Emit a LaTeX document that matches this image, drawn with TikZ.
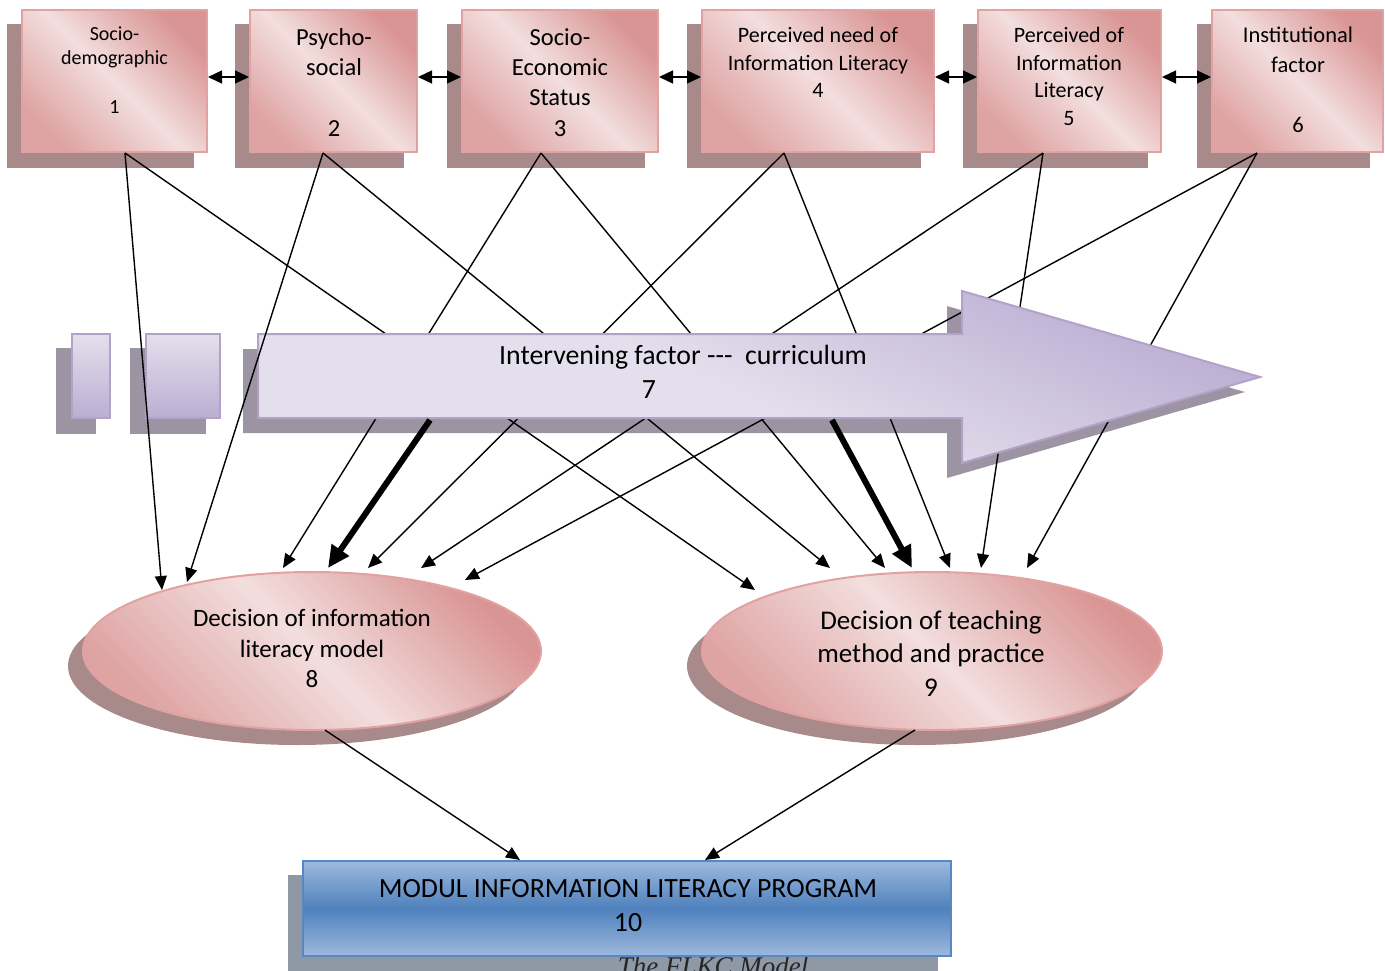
\documentclass[tikz,border=0pt]{standalone}
\usepackage{fontspec}
\setmainfont{Carlito}
\newfontfamily\capfont{Liberation Serif}
\usetikzlibrary{arrows.meta,calc,shapes.geometric}
\pgfdeclarelayer{shadowlayer}
\pgfsetlayers{shadowlayer,main}
\definecolor{pdark}{HTML}{D99594}
\definecolor{plight}{HTML}{F3DEDE}
\definecolor{pborder}{HTML}{E2A2A2}
\definecolor{pshadow}{HTML}{A88A8B}
\definecolor{vdark}{HTML}{BBAED3}
\definecolor{vmid}{HTML}{DCD5E8}
\definecolor{vlight}{HTML}{E4DFEC}
\definecolor{vborder}{HTML}{B3A2C7}
\definecolor{vshadow}{HTML}{9D94A3}
\definecolor{bmid}{HTML}{4F81BD}
\definecolor{blight}{HTML}{9DB9DE}
\definecolor{bborder}{HTML}{5787C4}
\definecolor{bshadow}{HTML}{8F99A6}
\pgfdeclareverticalshading{arrowshade}{100bp}{color(0bp)=(vlight); color(25bp)=(vlight); color(47bp)=(vlight); color(75bp)=(vdark); color(100bp)=(vdark)}
\tikzset{
  pinkbox/.style={draw=pborder, line width=2pt, top color=pdark, bottom color=pdark!80!plight, middle color=plight, shading angle=-45, minimum height=142pt, inner sep=0pt},
  pinkell/.style={ellipse, draw=pborder, line width=2pt, top color=pdark, bottom color=pdark!80!plight, middle color=plight, shading angle=-45, inner sep=0pt},
  vbox/.style={draw=vborder, line width=2pt, top color=vlight, bottom color=vdark, inner sep=0pt},
  bluebox/.style={draw=bborder, line width=2pt, top color=blight, bottom color=blight, middle color=bmid, inner sep=0pt},
  txt/.style={align=center, inner sep=0pt, text=black},
  conn/.style={line width=1.4pt, -{Triangle[length=14pt,width=12pt]}},
  heavy/.style={line width=6pt, -{Triangle[length=22pt,width=20pt]}},
  dbl/.style={line width=1.4pt, {Triangle[length=14pt,width=13pt]}-{Triangle[length=14pt,width=13pt]}},
}
\begin{document}
\begin{tikzpicture}[x=1pt,y=-1pt]
\useasboundingbox (0,0) rectangle (1385,970);

% ---- top boxes
\node[pinkbox, minimum width=185pt] (b1) at (114.5,81) {};
\node[pinkbox, minimum width=167pt] (b2) at (333.5,81) {};
\node[pinkbox, minimum width=196pt] (b3) at (560,81) {};
\node[pinkbox, minimum width=232pt] (b4) at (818,81) {};
\node[pinkbox, minimum width=183pt] (b5) at (1069.5,81) {};
\node[pinkbox, minimum width=171pt] (b6) at (1297.5,81) {};

\node[txt, font=\fontsize{20}{24.5}\selectfont] (t1) at (114.5,70) {Socio-\\demographic\\[24.5pt]1};
\node[txt, font=\fontsize{24.5}{30.3}\selectfont] (t2) at (334,82.5) {Psycho-\\social\\[30.3pt]2};
\node[txt, font=\fontsize{24.5}{30.3}\selectfont] (t3) at (560,82.5) {Socio-\\Economic\\Status\\3};
\node[txt, font=\fontsize{22}{27.5}\selectfont] (t4) at (818,62.5) {Perceived need of\\Information Literacy\\4};
\node[txt, font=\fontsize{22}{27.7}\selectfont] (t5) at (1069,76.5) {Perceived of\\Information\\Literacy\\5};
\node[txt, font=\fontsize{22.5}{30}\selectfont] (t6) at (1298,80) {Institutional\\factor\\[30pt]6};

\draw[dbl] ($(b1.east)+(0,-4)$) -- ($(b2.west)+(0,-4)$);
\draw[dbl] ($(b2.east)+(0,-4)$) -- ($(b3.west)+(0,-4)$);
\draw[dbl] ($(b3.east)+(0,-4)$) -- ($(b4.west)+(0,-4)$);
\draw[dbl] ($(b4.east)+(0,-4)$) -- ($(b5.west)+(0,-4)$);
\draw[dbl] ($(b5.east)+(0,-4)$) -- ($(b6.west)+(0,-4)$);

% ---- ellipses
\node[pinkell, minimum width=458pt, minimum height=158pt] (e8) at (312,651) {};
\node[pinkell, minimum width=460pt, minimum height=158pt] (e9) at (932,651) {};
\node[txt, font=\fontsize{25}{30.5}\selectfont] (t8) at (312,648.5) {Decision of information\\literacy model\\8};
\node[txt, font=\fontsize{27}{33.5}\selectfont] (t9) at (931,653.5) {Decision of teaching\\method and practice\\9};

% ---- bottom box
\node[txt, font=\capfont\itshape\fontsize{27}{30}\selectfont, text=black!85, anchor=base] (cap) at (713,975) {The FLKC Model};
\node[bluebox, minimum width=648pt, minimum height=95pt] (b10) at (627,908.5) {};
\node[txt, font=\fontsize{27.8}{34}\selectfont] (t10) at (628,906) {MODUL INFORMATION LITERACY PROGRAM\\10};

% ---- small boxes and arrow body reference
\node[vbox, minimum width=38pt, minimum height=84pt] (s1) at (91,376) {};
\node[vbox, minimum width=74pt, minimum height=84pt] (s2) at (183,376) {};
\node[minimum width=704pt, minimum height=84pt, inner sep=0pt, outer sep=0pt] (cur) at (610,376) {};

% ---- shadows
\begin{pgfonlayer}{shadowlayer}
  \foreach \n in {b1,b2,b3,b4,b5,b6}
    \fill[pshadow, transform canvas={xshift=-14.5pt,yshift=-14.5pt}] (\n.south west) rectangle (\n.north east);
  \fill[pshadow, transform canvas={xshift=-15pt,yshift=-15pt}] (e8.center) ellipse [x radius=229pt, y radius=79pt];
  \fill[pshadow, transform canvas={xshift=-15pt,yshift=-15pt}] (e9.center) ellipse [x radius=230pt, y radius=79pt];
  \foreach \n in {s1,s2}
    \fill[vshadow, transform canvas={xshift=-15pt,yshift=-15pt}] (\n.south west) rectangle (\n.north east);
  \fill[vshadow, transform canvas={xshift=-15pt,yshift=-15pt}]
    (cur.north west) -- (cur.north east) -- ($(cur.north east)+(0,-43)$) -- ($(cur.east)+(298,1)$)
    -- ($(cur.south east)+(0,45)$) -- (cur.south east) -- (cur.south west) -- cycle;
  \fill[bshadow, transform canvas={xshift=-14pt,yshift=-15pt}] (b10.south west) rectangle (b10.north east);
\end{pgfonlayer}

% ---- connectors hidden behind the arrow
\draw[conn] ($(b1.south)+(10.5,0)$) -- ($(e9.center)+(-177,-61)$);
\draw[conn] ($(b2.south)+(-10.5,0)$) -- ($(e9.center)+(-102,-83)$);
\draw[conn] ($(b3.south)+(-19,0)$) -- ($(e8.center)+(-29,-83)$);
\draw[conn] ($(b3.south)+(-19,0)$) -- ($(e9.center)+(-47,-83)$);
\draw[conn] ($(b4.south)+(-34,0)$) -- ($(e8.center)+(56,-83)$);
\draw[conn] ($(b4.south)+(-34,0)$) -- ($(e9.center)+(18,-83)$);
\draw[conn] ($(b5.south)+(-26.5,0)$) -- ($(e8.center)+(109,-83)$);
\draw[conn] ($(b5.south)+(-26.5,0)$) -- ($(e9.center)+(49,-83)$);
\draw[conn] ($(b6.south)+(-40.5,0)$) -- ($(e8.center)+(153,-71)$);
\draw[conn] ($(b6.south)+(-40.5,0)$) -- ($(e9.center)+(95,-83)$);

% ---- the intervening arrow
\path[draw=vborder, line width=2pt, shading=arrowshade, shading angle=-25]
  (cur.north west) -- (cur.north east) -- ($(cur.north east)+(0,-43)$) -- ($(cur.east)+(298,1)$)
  -- ($(cur.south east)+(0,45)$) -- (cur.south east) -- (cur.south west) -- cycle;
\node[txt, font=\fontsize{27.8}{33}\selectfont] (t7a) at (683,357) {Intervening factor -{}-{}-\ \ curriculum};
\node[txt, font=\fontsize{27.8}{33}\selectfont] (t7b) at (649,390) {7};

% ---- connectors over the arrow
\draw[conn] ($(b1.south)+(10.5,0)$) -- ($(e8.center)+(-150,-61)$);
\draw[conn] ($(b2.south)+(-10.5,0)$) -- ($(e8.center)+(-125,-69)$);
\draw[heavy] ($(cur.south)+(-180,2)$) -- ($(e8.center)+(16,-83)$);
\draw[heavy] ($(cur.south)+(222,2)$) -- ($(e9.center)+(-20,-83)$);

% ---- to the programme
\draw[conn] ($(e8.center)+(13,79)$) -- ($(b10.north)+(-107,0)$);
\draw[conn] ($(e9.center)+(-17,79)$) -- ($(b10.north)+(78,0)$);
\end{tikzpicture}
\end{document}
